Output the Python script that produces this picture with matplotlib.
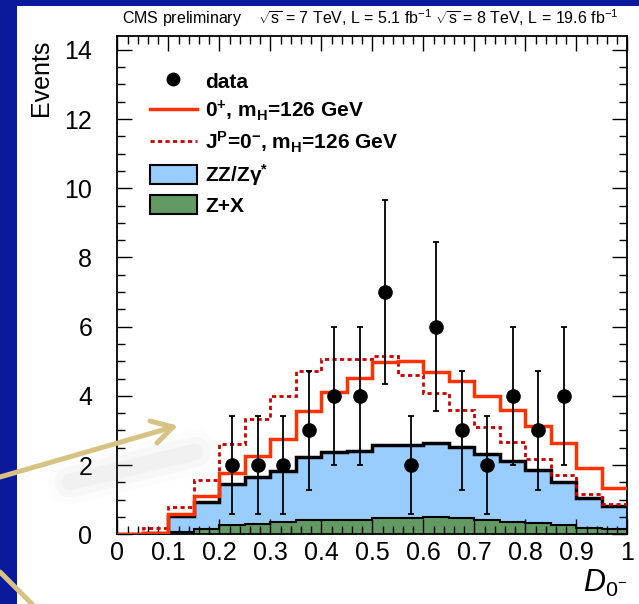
import numpy as np
import matplotlib
matplotlib.use("Agg")
import matplotlib.pyplot as plt
from matplotlib.lines import Line2D
from matplotlib.patches import Patch, Rectangle

plt.rcParams["font.family"] = ["Liberation Sans", "DejaVu Sans"]
plt.rcParams["mathtext.fontset"] = "custom"
plt.rcParams["mathtext.rm"] = "Liberation Sans"
plt.rcParams["mathtext.it"] = "Liberation Sans:italic"
plt.rcParams["mathtext.bf"] = "Liberation Sans:bold"

# histogram binning in D_0-
bin_edges = np.linspace(0.0, 1.0, 21)

# Z+X background (green)
zx = [0.00, 0.02, 0.08, 0.14, 0.26, 0.30, 0.36, 0.41, 0.41, 0.41,
      0.46, 0.46, 0.50, 0.46, 0.40, 0.36, 0.32, 0.28, 0.18, 0.16]
# ZZ/Zgamma* background (blue), stacked on Z+X
zz = [0.00, 0.02, 0.45, 0.80, 1.19, 1.35, 1.48, 1.83, 1.98, 1.99,
      2.12, 2.12, 2.13, 2.07, 1.91, 1.75, 1.54, 1.22, 0.88, 0.67]
# 0+ signal + background (solid red)
sm_0p = [0.00, 0.05, 0.59, 1.11, 1.76, 2.25, 2.76, 3.56, 4.10, 4.51,
         4.99, 5.00, 4.70, 4.44, 4.00, 3.60, 3.13, 2.63, 1.91, 1.33]
# J^P = 0- signal + background (dashed red)
ps_0m = [0.00, 0.17, 0.80, 1.57, 2.60, 3.34, 3.99, 4.71, 5.06, 5.07,
         5.15, 4.60, 4.09, 3.59, 3.11, 2.68, 2.18, 1.71, 1.17, 0.88]

# observed data
data_x = [0.225, 0.275, 0.325, 0.375, 0.425, 0.475, 0.525,
          0.575, 0.625, 0.675, 0.725, 0.775, 0.825, 0.875]
data_y = [2, 2, 2, 3, 4, 4, 7, 2, 6, 3, 2, 4, 3, 4]
data_err = [1.41, 1.41, 1.41, 1.73, 2.0, 2.0, 2.65,
            1.41, 2.45, 1.73, 1.41, 2.0, 1.73, 2.0]

xtick_vals = [0, 0.1, 0.2, 0.3, 0.4, 0.5, 0.6, 0.7, 0.8, 0.9, 1.0]
xtick_labels = ["0", "0.1", "0.2", "0.3", "0.4", "0.5",
                "0.6", "0.7", "0.8", "0.9", "1"]
ytick_vals = [0, 2, 4, 6, 8, 10, 12, 14]

W, H = 639, 604


def px(x, y):
    """pixel (top-left origin) -> figure fraction"""
    return x / W, 1 - y / H


fig = plt.figure(figsize=(W / 100, H / 100), dpi=100)
fig.patch.set_facecolor("#0b1a9c")
fig.add_artist(Rectangle(px(17, H), 1, 1 - 6 / H, transform=fig.transFigure,
                         facecolor="white", edgecolor="none", zorder=-10))

ax = fig.add_axes([117.3 / W, 1 - 534.3 / H, 510 / W, (534.3 - 36) / H])

total_bkg = np.add(zz, zx)
ax.stairs(total_bkg, bin_edges, fill=True, color="#99ccff", zorder=1)
ax.stairs(zx, bin_edges, fill=True, color="#639a63", zorder=1.1)
ax.stairs(zx, bin_edges, baseline=None, color="black", lw=1.5, zorder=1.2)
ax.stairs(total_bkg, bin_edges, baseline=None, color="black", lw=2.5, zorder=2)
ax.stairs(ps_0m, bin_edges, baseline=None, color="#cc0000", lw=2,
          linestyle=(0, (1.5, 1.2)), zorder=3)
ax.stairs(sm_0p, bin_edges, baseline=None, color="#ff3300", lw=2.5, zorder=3.1)
ax.errorbar(data_x, data_y, yerr=data_err, fmt="o", color="black", ms=9.5,
            elinewidth=1.3, capsize=2.5, capthick=1.3, zorder=5)

ax.set_xlim(0, 1)
ax.set_ylim(0, 14.4)
ax.set_xticks(xtick_vals)
ax.set_xticklabels(xtick_labels)
ax.set_xticks(np.arange(0, 1.001, 0.02), minor=True)
ax.set_yticks(ytick_vals)
ax.set_yticks(np.arange(0, 14.4, 0.5), minor=True)
ax.tick_params(which="both", direction="in", top=True, right=True,
               width=1, labelsize=18)
ax.tick_params(which="major", length=11)
ax.tick_params(which="minor", length=5.5)
ax.tick_params(axis="y", pad=18)
ax.tick_params(axis="x", pad=5)
for sp in ax.spines.values():
    sp.set_linewidth(1.3)

handles = [
    Line2D([], [], marker="o", color="black", ls="none", ms=9),
    Line2D([], [], color="#ff3300", lw=2.5),
    Line2D([], [], color="#cc0000", lw=2, ls=(0, (1.5, 1.2))),
    Patch(facecolor="#99ccff", edgecolor="black", lw=1.5),
    Patch(facecolor="#639a63", edgecolor="black", lw=1.5),
]
labels = [
    "data",
    r"$\mathbf{0^{+}}$, $\mathbf{m_{H}}$=126 GeV",
    r"$\mathbf{J^{P}}$=$\mathbf{0^{-}}$, $\mathbf{m_{H}}$=126 GeV",
    r"ZZ/Z$\mathbf{\gamma^{*}}$",
    "Z+X",
]
ax.legend(handles, labels, loc="upper left", bbox_to_anchor=(0.064, 0.93),
          frameon=False, prop={"weight": "bold", "size": 15},
          handlelength=2.25, handleheight=1.05, labelspacing=0.33,
          handletextpad=0.4, borderpad=0, borderaxespad=0)

fig.text(*px(122, 18),
         r"CMS preliminary    $\sqrt{\mathrm{s}}$ = 7 TeV, L = 5.1 fb$^{-1}$"
         r" $\sqrt{\mathrm{s}}$ = 8 TeV, L = 19.6 fb$^{-1}$",
         fontsize=11.5, ha="left", va="center")
fig.text(*px(41, 40), "Events", rotation=90, fontsize=18,
         ha="center", va="top")
fig.text(*px(627, 592), r"$D_{0^{-}}$", fontsize=22, ha="right",
         va="baseline")

# slide decorations: gold arrow with soft shadow
for w, a in [(32, 0.025), (22, 0.035), (12, 0.045)]:
    fig.add_artist(Line2D([px(70, 0)[0], px(195, 0)[0]],
                          [px(0, 482)[1], px(0, 452)[1]],
                          transform=fig.transFigure, color="gray",
                          lw=w, alpha=a, solid_capstyle="round", zorder=6))
gold = "#d6c384"
arrow_lines = [
    [(0, 477), (173, 427)],
    [(173, 427), (150, 421)],
    [(173, 427), (157, 443)],
    [(0, 572), (34, 606)],
]
for (x0, y0), (x1, y1) in arrow_lines:
    (fx0, fy0), (fx1, fy1) = px(x0, y0), px(x1, y1)
    fig.add_artist(Line2D([fx0, fx1], [fy0, fy1], transform=fig.transFigure,
                          color=gold, lw=3.6, solid_capstyle="round",
                          zorder=7))

fig.savefig("out.png", dpi=100, facecolor=fig.get_facecolor())
